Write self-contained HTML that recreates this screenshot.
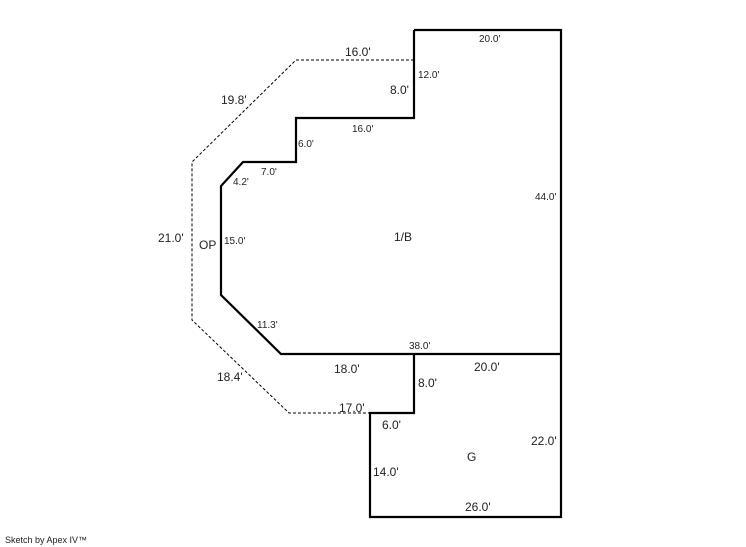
<!DOCTYPE html>
<html><head><style>body{margin:0;background:#fff}svg{display:block}text{font-family:"Liberation Sans",sans-serif;fill:#222}.s{font-size:10px}.l{font-size:12px}</style></head>
<body><svg width="746" height="547" viewBox="0 0 746 547">
<polyline fill="none" stroke="#000" stroke-width="1" stroke-dasharray="3,2" points="414,60 296,60 192,162 192,320 289,413 370,413"/>
<polyline fill="none" stroke="#000" stroke-width="2.2" points="414,30 561,30 561,354 281,354 221,295 221,186 243,162 296,162 296,118 414,118 414,30"/>
<polyline fill="none" stroke="#000" stroke-width="2.2" points="414,354 414,413 370,413 370,517 561,517 561,354"/>
<text class="s" x="479" y="42">20.0'</text>
<text class="l" x="345" y="56">16.0'</text>
<text class="s" x="418" y="78">12.0'</text>
<text class="l" x="390" y="94">8.0'</text>
<text class="l" x="221" y="104">19.8'</text>
<text class="s" x="352" y="132">16.0'</text>
<text class="s" x="298" y="147">6.0'</text>
<text class="s" x="261" y="175">7.0'</text>
<text class="s" x="233" y="185">4.2'</text>
<text class="s" x="535" y="200">44.0'</text>
<text class="l" x="158" y="242">21.0'</text>
<text class="s" x="224" y="244">15.0'</text>
<text class="l" x="199" y="249">OP</text>
<text class="l" x="394" y="241">1/B</text>
<text class="s" x="257" y="328">11.3'</text>
<text class="s" x="409" y="349">38.0'</text>
<text class="l" x="334" y="373">18.0'</text>
<text class="l" x="474" y="371">20.0'</text>
<text class="l" x="217" y="381">18.4'</text>
<text class="l" x="418" y="387">8.0'</text>
<text class="l" x="339" y="412">17.0'</text>
<text class="l" x="382" y="429">6.0'</text>
<text class="l" x="531" y="445">22.0'</text>
<text class="l" x="467" y="461">G</text>
<text class="l" x="373" y="476">14.0'</text>
<text class="l" x="465" y="511">26.0'</text>
<text x="5" y="543" style="font-size:9px">Sketch by Apex IV™</text>
</svg></body></html>
